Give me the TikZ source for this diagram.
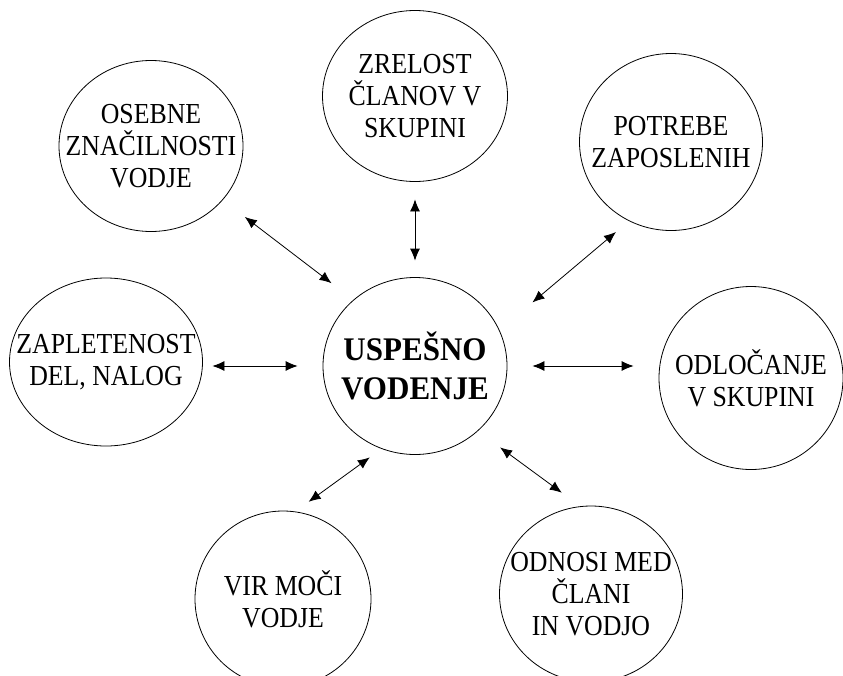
\documentclass[tikz,border=0pt]{standalone}
\usepackage{fontspec}
\setmainfont{Liberation Serif}[FakeStretch=0.89, BoldFeatures={FakeStretch=0.94}]
\usetikzlibrary{shapes.geometric,arrows.meta}
\tikzset{
  circ_n/.style = {ellipse, draw=black, line width=0.8pt, inner sep=0pt, minimum width=184pt, minimum height=177pt},
  circ_t/.style = {align=center, inner sep=0pt, font=\fontsize{29}{32}\selectfont},
  circ_c/.style = {align=center, inner sep=0pt, font=\fontsize{33}{38.5}\selectfont\bfseries},
  link_a/.style = {<->, >={Latex[length=12pt,width=10pt]}, line width=0.8pt}
}
\begin{document}
\begin{tikzpicture}[x=1pt,y=-1pt]
\useasboundingbox (0,0) rectangle (843,675);
% centre
\node [circ_n, label={[circ_c]center:{USPEŠNO\\VODENJE}}] (usp) at (415,366) {};
% outer circles
\node [circ_n, minimum width=185pt, minimum height=171pt, label={[circ_t]center:{ZRELOST\\ČLANOV V\\SKUPINI}}] (zrel) at (415,96) {};
\node [circ_n, minimum height=171pt, label={[circ_t]center:{OSEBNE\\ZNAČILNOSTI\\VODJE}}] (oseb) at (151,146) {};
\node [circ_n, minimum width=183pt, label={[circ_t]center:{POTREBE\\ZAPOSLENIH}}] (potr) at (671,142) {};
\node [circ_n, minimum width=193pt, minimum height=168pt, label={[circ_t]center:{ZAPLETENOST\\DEL, NALOG}}] (zap) at (106,362) {};
\node [circ_n, minimum height=183pt, label={[circ_t]center:{ODLOČANJE\\V SKUPINI}}] (odl) at (751,378) {};
\node [circ_n, minimum width=176pt, minimum height=176pt, label={[circ_t]center:{VIR MOČI\\VODJE}}] (vir) at (283,599) {};
\node [circ_n, minimum width=183pt, minimum height=176pt, label={[circ_t]center:{ODNOSI MED\\ČLANI\\IN VODJO}}] (odn) at (591,594) {};
% arrows
\draw [link_a, shorten <=27.7pt, shorten >=27.4pt] (oseb.323.9) -- (usp.133.9);
\draw [link_a, shorten <=17.5pt, shorten >=16.5pt] (zrel) -- (usp);
\draw [link_a, shorten <=17pt, shorten >=43pt] (potr.242.7) -- (usp.23.6);
\draw [link_a, shorten <=9.5pt, shorten >=25pt] (usp.west -| zap.east) -- (usp.west);
\draw [link_a, shorten <=25pt, shorten >=25pt] (usp.east) -- (usp.east -| odl.west);
\draw [link_a, shorten <=14.5pt, shorten >=16.5pt] (usp.248) -- (vir.82.4);
\draw [link_a, shorten <=27.5pt, shorten >=22.8pt] (usp.314.2) -- (odn.97);
\end{tikzpicture}
\end{document}
